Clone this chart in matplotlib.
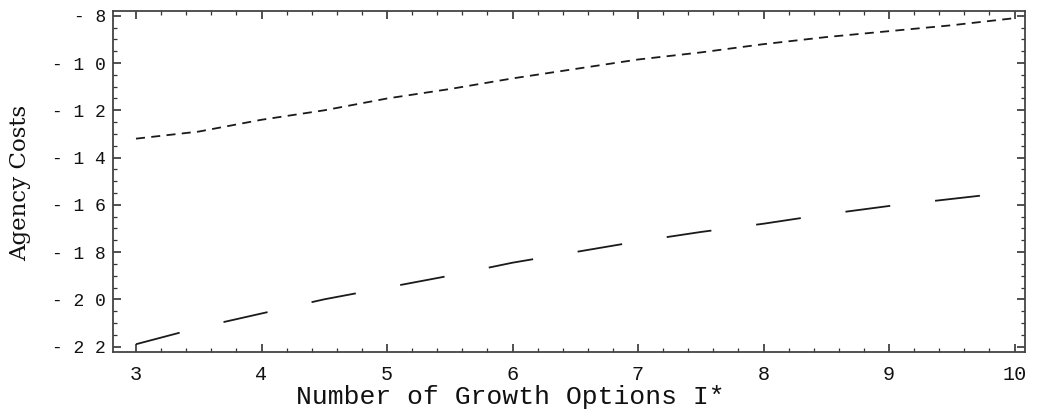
"""Agency costs vs. number of growth options, Mathematica-style line plot."""

import matplotlib
matplotlib.use("Agg")
import matplotlib.pyplot as plt
from matplotlib.ticker import MultipleLocator, FixedLocator

growth_options = [3, 3.5, 4, 4.5, 5, 5.5, 6, 6.5, 7, 7.5, 8, 8.5, 9, 9.5, 10]
upper_costs = [-13.2, -12.9, -12.4, -12.0, -11.5, -11.1, -10.65, -10.25,
               -9.85, -9.55, -9.2, -8.9, -8.65, -8.4, -8.1]
lower_costs = [-21.9, -21.2, -20.6, -20.0, -19.5, -19.0, -18.45, -18.0,
               -17.55, -17.15, -16.8, -16.4, -16.05, -15.75, -15.45]

x_ticks = [3, 4, 5, 6, 7, 8, 9, 10]
x_labels = ["3", "4", "5", "6", "7", "8", "9", "10"]
y_ticks = [-22, -20, -18, -16, -14, -12, -10, -8]
y_labels = ["- 2 2", "- 2 0", "- 1 8", "- 1 6", "- 1 4", "- 1 2", "- 1 0", "- 8"]

MONO = "Liberation Mono"

fig = plt.figure(figsize=(10.37, 4.17), dpi=100)
ax = fig.add_axes([0.109, 0.157, 0.879, 0.817])

(upper,) = ax.plot(growth_options, upper_costs, color="#1a1a1a", lw=1.3)
upper.set_dashes([5, 3.5])
(lower,) = ax.plot(growth_options, lower_costs, color="#1a1a1a", lw=1.3)
lower.set_dashes([25, 25])

ax.set_xlim(2.817, 10.08)
ax.set_ylim(-22.21, -7.79)

ax.xaxis.set_major_locator(FixedLocator(x_ticks))
ax.set_xticklabels(x_labels, fontfamily=MONO, fontsize=14.5, color="#111111")
ax.xaxis.set_minor_locator(MultipleLocator(0.2))
ax.yaxis.set_major_locator(FixedLocator(y_ticks))
ax.set_yticklabels(y_labels, fontfamily=MONO, fontsize=13, color="#111111")
ax.yaxis.set_minor_locator(MultipleLocator(0.5))

ax.tick_params(which="both", direction="in", top=True, right=True,
               color="#333333")
ax.tick_params(which="major", length=6, width=1.2, pad=5)
ax.tick_params(which="minor", length=3, width=0.9)
ax.tick_params(axis="x", which="major", pad=10)

for spine in ax.spines.values():
    spine.set_linewidth(1.3)
    spine.set_color("#444444")

ax.set_xlabel("Number of Growth Options I*", fontfamily=MONO, fontsize=19,
              color="#111111")
ax.xaxis.set_label_coords(0.436, -0.097)
ax.set_ylabel("Agency Costs", fontfamily="DejaVu Serif", fontsize=16.5,
              color="#111111")
ax.yaxis.set_label_coords(-0.09, 0.495)

fig.savefig("out.png", dpi=100)
